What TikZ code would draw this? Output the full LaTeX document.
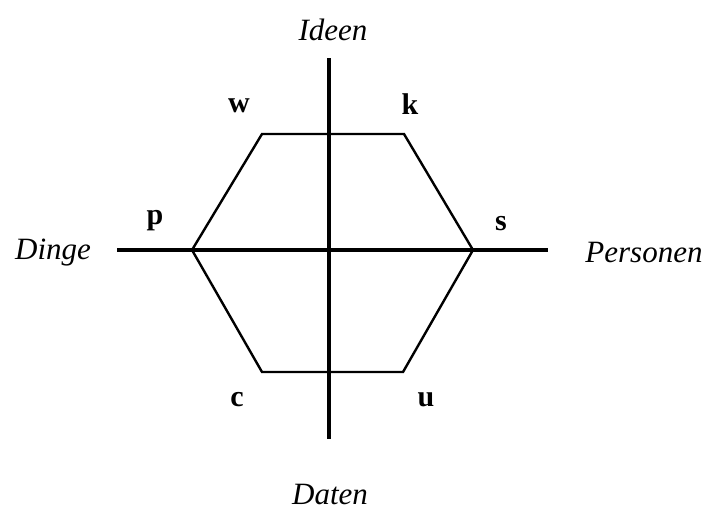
\documentclass[tikz,border=0pt]{standalone}
\usepackage{fontspec}
\setmainfont{Liberation Serif}
\begin{document}
\begin{tikzpicture}[x=1pt,y=-1pt,
  axis/.style={line width=3.8pt},
  hexline/.style={line width=2.4pt, line join=miter},
  axislabel/.style={font=\fontsize{31}{31}\selectfont\itshape, inner sep=0pt},
  letter/.style={font=\fontsize{30}{30}\selectfont\bfseries, inner sep=0pt}]
\useasboundingbox (0,0) rectangle (706,512);
% hexagon vertices
\coordinate (L) at (192,250);
\coordinate (TL) at (262,134);
\coordinate (TR) at (404,134);
\coordinate (R) at (473,250);
\coordinate (BR) at (403,372);
\coordinate (BL) at (262,372);
\draw[hexline] (L) -- (TL) -- (TR) -- (R) -- (BR) -- (BL) -- cycle;
% axes
\coordinate (vtop) at (329,58);
\coordinate (vbot) at (329,439);
\coordinate (hleft) at (117,250);
\coordinate (hright) at (548,250);
\draw[axis] (vtop) -- (vbot);
\draw[axis] (hleft) -- (hright);
% axis labels
\node[axislabel] (ideen) at (333,30) {Ideen};
\node[axislabel] (dinge) at (53,253) {Dinge};
\node[axislabel] (personen) at (644,252) {Personen};
\node[axislabel] (daten) at (330,494) {Daten};
% letters
\node[letter] (w) at (239,106) {w};
\node[letter] (k) at (410,104) {k};
\node[letter] (p) at (155,221) {p};
\node[letter] (s) at (501,224) {s};
\node[letter] (c) at (237,400) {c};
\node[letter] (u) at (426,400) {u};
\end{tikzpicture}
\end{document}
